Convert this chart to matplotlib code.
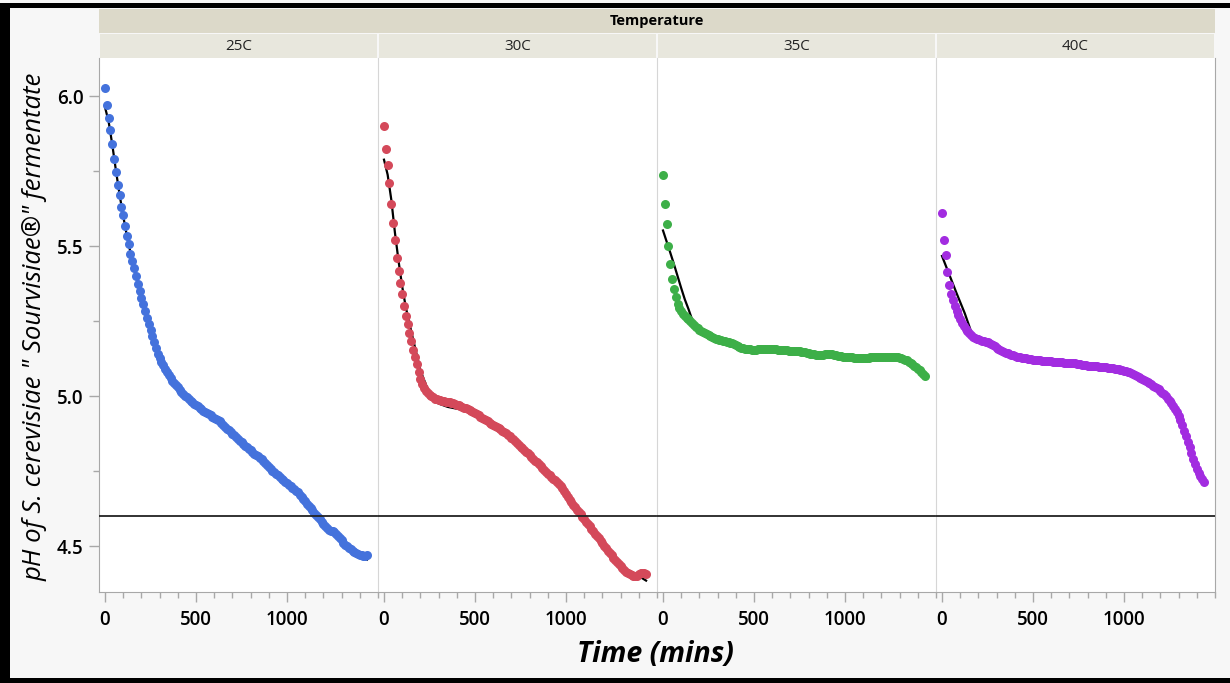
import matplotlib
matplotlib.use("Agg")
import matplotlib.pyplot as plt
from matplotlib.patches import Rectangle
from matplotlib.ticker import MultipleLocator, FixedLocator

plt.rcParams['font.family'] = ['Open Sans', 'DejaVu Sans']

# readings every 10 min, 0 .. 1440
TIME = list(range(0, 1441, 10))

PH_25C = [6.027, 5.971, 5.928, 5.886, 5.840, 5.790, 5.747, 5.704, 5.671, 5.631,
          5.603, 5.567, 5.535, 5.507, 5.474, 5.450, 5.426, 5.400, 5.373, 5.350,
          5.327, 5.307, 5.283, 5.260, 5.239, 5.220, 5.201, 5.179, 5.160, 5.142,
          5.127, 5.115, 5.103, 5.091, 5.079, 5.069, 5.060, 5.052, 5.045, 5.037,
          5.030, 5.022, 5.015, 5.008, 5.002, 4.996, 4.990, 4.985, 4.980, 4.975,
          4.971, 4.966, 4.961, 4.956, 4.952, 4.948, 4.944, 4.940, 4.936, 4.932,
          4.928, 4.924, 4.920, 4.916, 4.911, 4.904, 4.898, 4.892, 4.886, 4.880,
          4.875, 4.870, 4.864, 4.858, 4.852, 4.846, 4.840, 4.834, 4.829, 4.824,
          4.819, 4.813, 4.808, 4.803, 4.799, 4.795, 4.790, 4.783, 4.776, 4.770,
          4.764, 4.758, 4.752, 4.747, 4.742, 4.736, 4.731, 4.725, 4.720, 4.715,
          4.711, 4.705, 4.700, 4.695, 4.690, 4.685, 4.680, 4.672, 4.665, 4.657,
          4.650, 4.642, 4.635, 4.627, 4.620, 4.612, 4.605, 4.597, 4.590, 4.582,
          4.574, 4.566, 4.560, 4.555, 4.552, 4.549, 4.546, 4.540, 4.533, 4.526,
          4.519, 4.512, 4.505, 4.499, 4.494, 4.489, 4.484, 4.480, 4.476, 4.473,
          4.471, 4.469, 4.467, 4.468, 4.470]

PH_30C = [5.899, 5.825, 5.770, 5.712, 5.642, 5.578, 5.521, 5.462, 5.418, 5.377,
          5.340, 5.300, 5.267, 5.242, 5.209, 5.184, 5.155, 5.132, 5.107, 5.082,
          5.058, 5.040, 5.027, 5.017, 5.010, 5.004, 5.000, 4.996, 4.992, 4.990,
          4.988, 4.986, 4.985, 4.983, 4.982, 4.980, 4.979, 4.977, 4.976, 4.974,
          4.972, 4.970, 4.967, 4.965, 4.962, 4.960, 4.957, 4.954, 4.951, 4.948,
          4.944, 4.941, 4.937, 4.932, 4.928, 4.924, 4.920, 4.916, 4.912, 4.908,
          4.904, 4.900, 4.897, 4.893, 4.889, 4.885, 4.880, 4.876, 4.871, 4.867,
          4.862, 4.856, 4.850, 4.844, 4.838, 4.832, 4.826, 4.821, 4.815, 4.809,
          4.803, 4.797, 4.791, 4.785, 4.779, 4.773, 4.767, 4.761, 4.755, 4.748,
          4.742, 4.737, 4.731, 4.725, 4.719, 4.713, 4.707, 4.700, 4.693, 4.684,
          4.675, 4.665, 4.655, 4.646, 4.638, 4.630, 4.622, 4.614, 4.606, 4.598,
          4.590, 4.582, 4.574, 4.566, 4.558, 4.550, 4.542, 4.534, 4.526, 4.518,
          4.510, 4.502, 4.494, 4.485, 4.477, 4.469, 4.462, 4.455, 4.448, 4.441,
          4.434, 4.427, 4.421, 4.415, 4.410, 4.406, 4.403, 4.401, 4.399, 4.402,
          4.406, 4.409, 4.411, 4.409, 4.407]

PH_35C = [5.738, 5.640, 5.575, 5.500, 5.440, 5.392, 5.356, 5.330, 5.308, 5.294,
          5.284, 5.275, 5.268, 5.262, 5.256, 5.250, 5.243, 5.237, 5.232, 5.227,
          5.222, 5.218, 5.214, 5.210, 5.207, 5.203, 5.200, 5.197, 5.194, 5.192,
          5.190, 5.188, 5.186, 5.184, 5.183, 5.181, 5.180, 5.178, 5.176, 5.173,
          5.171, 5.168, 5.165, 5.162, 5.160, 5.158, 5.157, 5.156, 5.156, 5.155,
          5.155, 5.155, 5.156, 5.156, 5.157, 5.157, 5.157, 5.157, 5.157, 5.157,
          5.157, 5.156, 5.156, 5.155, 5.155, 5.154, 5.154, 5.153, 5.153, 5.152,
          5.152, 5.151, 5.151, 5.150, 5.150, 5.149, 5.148, 5.147, 5.146, 5.145,
          5.144, 5.142, 5.141, 5.139, 5.138, 5.137, 5.136, 5.136, 5.137, 5.139,
          5.140, 5.141, 5.141, 5.140, 5.138, 5.136, 5.135, 5.134, 5.133, 5.132,
          5.132, 5.131, 5.130, 5.129, 5.129, 5.128, 5.128, 5.127, 5.127, 5.127,
          5.127, 5.127, 5.128, 5.128, 5.129, 5.129, 5.130, 5.130, 5.130, 5.130,
          5.130, 5.130, 5.131, 5.131, 5.131, 5.131, 5.131, 5.131, 5.130, 5.129,
          5.128, 5.126, 5.124, 5.122, 5.119, 5.115, 5.111, 5.107, 5.102, 5.097,
          5.092, 5.086, 5.080, 5.073, 5.066]

PH_40C = [5.610, 5.520, 5.470, 5.414, 5.370, 5.341, 5.320, 5.302, 5.285, 5.270,
          5.256, 5.244, 5.233, 5.223, 5.216, 5.209, 5.203, 5.198, 5.195, 5.192,
          5.189, 5.186, 5.184, 5.183, 5.181, 5.179, 5.177, 5.175, 5.172, 5.167,
          5.162, 5.158, 5.154, 5.151, 5.148, 5.145, 5.143, 5.140, 5.138, 5.136,
          5.134, 5.132, 5.131, 5.129, 5.128, 5.127, 5.126, 5.125, 5.124, 5.123,
          5.122, 5.121, 5.121, 5.120, 5.119, 5.118, 5.118, 5.117, 5.117, 5.116,
          5.116, 5.115, 5.115, 5.114, 5.114, 5.113, 5.113, 5.112, 5.112, 5.111,
          5.111, 5.110, 5.110, 5.109, 5.108, 5.107, 5.106, 5.105, 5.104, 5.103,
          5.102, 5.101, 5.101, 5.100, 5.100, 5.099, 5.098, 5.097, 5.097, 5.096,
          5.096, 5.095, 5.094, 5.093, 5.093, 5.092, 5.091, 5.090, 5.088, 5.087,
          5.085, 5.083, 5.081, 5.079, 5.077, 5.074, 5.071, 5.068, 5.064, 5.061,
          5.057, 5.054, 5.050, 5.047, 5.043, 5.039, 5.035, 5.032, 5.028, 5.023,
          5.018, 5.012, 5.006, 4.999, 4.992, 4.984, 4.976, 4.967, 4.958, 4.947,
          4.935, 4.921, 4.905, 4.885, 4.866, 4.847, 4.829, 4.810, 4.792, 4.775,
          4.758, 4.745, 4.733, 4.723, 4.714]

# smoother fit lines (black)
FIT_T_25C = [0, 20, 40, 60, 80, 100, 120, 150, 200, 250, 300, 400, 500, 600, 700,
             800, 900, 1000, 1100, 1200, 1300, 1400, 1440]
FIT_25C = [5.963, 5.915, 5.838, 5.752, 5.672, 5.600, 5.535, 5.450, 5.328, 5.222,
           5.130, 5.030, 4.970, 4.928, 4.874, 4.820, 4.764, 4.710, 4.650, 4.574,
           4.517, 4.468, 4.455]
FIT_T_30C = [0, 20, 40, 60, 80, 100, 120, 150, 200, 250, 300, 350, 400, 450, 500,
             600, 700, 800, 900, 1000, 1100, 1200, 1300, 1400, 1440]
FIT_30C = [5.788, 5.738, 5.655, 5.545, 5.450, 5.365, 5.295, 5.215, 5.085, 5.008,
           4.975, 4.964, 4.958, 4.952, 4.942, 4.904, 4.862, 4.803, 4.742, 4.675,
           4.590, 4.510, 4.434, 4.400, 4.385]
FIT_T_35C = [0, 20, 40, 60, 80, 100, 120, 140, 160, 180, 200, 250, 300, 500, 700,
             900, 1100, 1300, 1400, 1440]
FIT_35C = [5.552, 5.515, 5.478, 5.440, 5.400, 5.360, 5.322, 5.290, 5.255, 5.235,
           5.222, 5.203, 5.190, 5.155, 5.152, 5.140, 5.127, 5.128, 5.092, 5.066]
FIT_T_40C = [0, 40, 80, 125, 160, 200, 300, 500, 700, 900, 1000, 1100, 1200, 1240,
             1280, 1320, 1360, 1400, 1440]
FIT_40C = [5.467, 5.405, 5.343, 5.276, 5.215, 5.189, 5.162, 5.122, 5.111, 5.096,
           5.085, 5.057, 5.018, 4.992, 4.958, 4.905, 4.829, 4.758, 4.714]

TEMPS = ['25C', '30C', '35C', '40C']
SERIES = [PH_25C, PH_30C, PH_35C, PH_40C]
FITS = [(FIT_T_25C, FIT_25C), (FIT_T_30C, FIT_30C), (FIT_T_35C, FIT_35C), (FIT_T_40C, FIT_40C)]
COLORS = ['#4472dc', '#d4495a', '#3daf48', '#a22ce0']
LIMIT_PH = 4.6

W, H = 1230, 683
fig = plt.figure(figsize=(W / 100, H / 100), dpi=100, facecolor='#f7f7f7')

def fx(px):
    return px / W

def fy(py):
    return 1 - py / H

def frect(x0, y0, x1, y1, color):
    fig.add_artist(Rectangle((fx(x0), fy(y1)), fx(x1) - fx(x0), fy(y0) - fy(y1),
                             transform=fig.transFigure, facecolor=color,
                             edgecolor='none', zorder=0))

# frame
frect(0, 3, 10, 683, 'black')
frect(0, 3, 1230, 8, 'black')
frect(0, 678, 1230, 683, 'black')

PANEL_L, PANEL_W = 99, 279
TOP, BOTTOM = 58, 592

# header bands
frect(PANEL_L, 9, PANEL_L + 4 * PANEL_W, 33, '#dcd9c9')
fig.text(fx(PANEL_L + 2 * PANEL_W), fy(21), 'Temperature', ha='center', va='center',
         fontsize=10.5, weight='bold')

for i, (temp, ph, fit, col) in enumerate(zip(TEMPS, SERIES, FITS, COLORS)):
    left = PANEL_L + i * PANEL_W
    frect(left + 1, 34, left + PANEL_W - 1, TOP, '#e8e7dd')
    fig.text(fx(left + PANEL_W / 2), fy(46), temp, ha='center', va='center',
             fontsize=11, color='#222222')

    ax = fig.add_axes([fx(left), fy(BOTTOM), fx(PANEL_W), (BOTTOM - TOP) / H])
    ax.set_facecolor('white')
    ax.plot(fit[0], fit[1], color='black', lw=1.6, zorder=2)
    ax.plot(TIME, ph, 'o', ms=6.5, color=col, mec='none', zorder=3)
    ax.axhline(LIMIT_PH, color='#222222', lw=1.3, zorder=4)

    ax.set_xlim(-33, 1500)
    ax.set_ylim(4.347, 6.127)
    ax.xaxis.set_major_locator(FixedLocator([0, 500, 1000]))
    ax.xaxis.set_minor_locator(MultipleLocator(100))
    ax.tick_params(axis='x', which='major', length=7, width=1, color='#a8a8a8',
                   labelsize=13.5, pad=6)
    ax.tick_params(axis='x', which='minor', length=4, width=1, color='#a8a8a8')
    for lab in ax.get_xticklabels():
        lab.set_fontweight(600)

    ax.spines['top'].set_visible(False)
    ax.spines['bottom'].set_color('#a8a8a8')
    ax.spines['right'].set_visible(i == 3)
    ax.spines['right'].set_color('#a8a8a8')
    if i == 0:
        ax.spines['left'].set_color('#a8a8a8')
        ax.yaxis.set_major_locator(MultipleLocator(0.5))
        ax.yaxis.set_minor_locator(MultipleLocator(0.25))
        ax.yaxis.set_major_formatter('{x:.1f}')
        ax.tick_params(axis='y', which='major', length=7, width=1, color='#a8a8a8',
                       labelsize=13.5, pad=4)
        ax.tick_params(axis='y', which='minor', length=4, width=1, color='#a8a8a8')
        for lab in ax.get_yticklabels():
            lab.set_fontweight(600)
    else:
        ax.spines['left'].set_color('#d6d6d6')
        ax.set_yticks([])

fig.text(fx(35), fy(327), 'pH of S. cerevisiae " Sourvisiae®" fermentate',
         rotation=90, ha='center', va='center', fontsize=18.5, style='italic')
fig.text(fx(655), fy(655), 'Time (mins)', ha='center', va='center',
         fontsize=20.5, weight='bold', style='italic')

fig.savefig('out.png', dpi=100, facecolor=fig.get_facecolor())
